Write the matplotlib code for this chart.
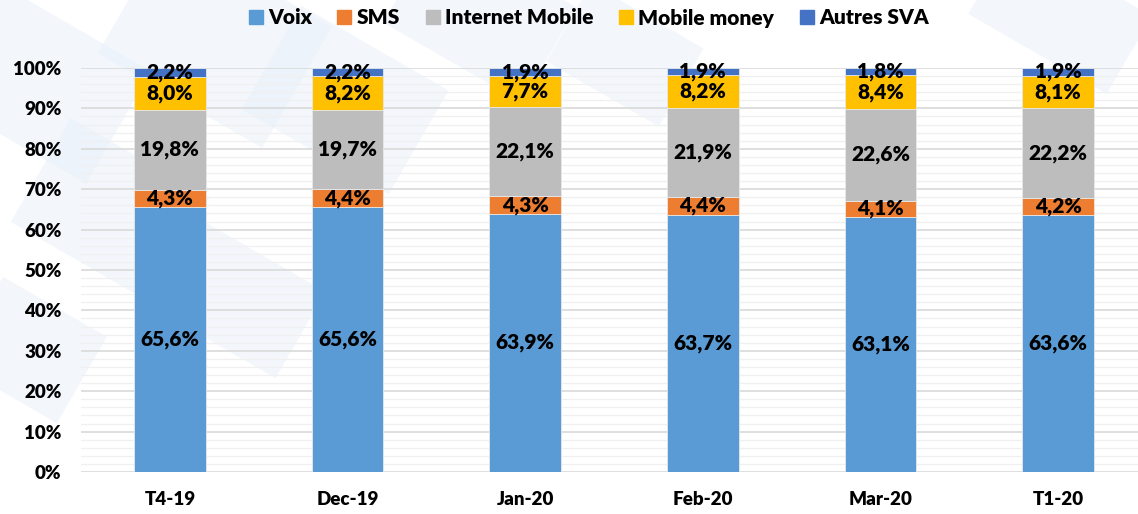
import matplotlib
matplotlib.use("Agg")
import matplotlib.pyplot as plt
from matplotlib.lines import Line2D
from matplotlib.patches import Rectangle
from matplotlib.transforms import Affine2D
import numpy as np

categories = ["T4-19", "Dec-19", "Jan-20", "Feb-20", "Mar-20", "T1-20"]
series_names = ["Voix", "SMS", "Internet Mobile", "Mobile money", "Autres SVA"]
voix = [65.6, 65.6, 63.9, 63.7, 63.1, 63.6]
sms = [4.3, 4.4, 4.3, 4.4, 4.1, 4.2]
internet_mobile = [19.8, 19.7, 22.1, 21.9, 22.6, 22.2]
mobile_money = [8.0, 8.2, 7.7, 8.2, 8.4, 8.1]
autres_sva = [2.2, 2.2, 1.9, 1.9, 1.8, 1.9]
colors = ["#5B9BD5", "#ED7D31", "#BDBDBD", "#FFC000", "#4472C4"]
y_ticks = list(range(0, 101, 10))

series = [voix, sms, internet_mobile, mobile_money, autres_sva]

plt.rcParams["font.family"] = ["Lato", "DejaVu Sans"]
WEIGHT = "heavy"

W, H = 1138, 514
fig = plt.figure(figsize=(W / 100, H / 100), dpi=100)
fig.patch.set_facecolor("white")

# faint tilted tiles in the page background (pixel space, origin top-left)
bg = fig.add_axes([0, 0, 1, 1], zorder=-5)
bg.set_xlim(0, W)
bg.set_ylim(H, 0)
bg.axis("off")
tiles = [(-40, 20, 170, 130), (120, -30, 190, 140), (30, 150, 160, 120),
         (260, 40, 170, 120), (400, -40, 160, 110), (170, 250, 140, 100),
         (560, 10, 130, 90), (980, -30, 160, 90), (-30, 300, 120, 100)]
for tx, ty, tw, th in tiles:
    r = Rectangle((tx, ty), tw, th, facecolor="#e9f1fa", edgecolor="none",
                  alpha=0.5, zorder=0)
    r.set_transform(Affine2D().rotate_deg_around(tx + tw / 2, ty + th / 2, 30)
                    + bg.transData)
    bg.add_patch(r)

ax = fig.add_axes([81 / W, 1 - 472 / H, (1147 - 81) / W, (472 - 68) / H],
                  zorder=1)
ax.set_facecolor("none")

x = np.arange(len(categories))
bottom = np.zeros(len(categories))
for name, vals, col in zip(series_names, series, colors):
    vals = np.array(vals)
    ax.bar(x, vals, width=0.405, bottom=bottom, color=col, label=name,
           edgecolor="#e8e8e8", linewidth=0.6, zorder=3)
    for xi, b, v in zip(x, bottom, vals):
        ax.text(xi, b + v / 2, f"{v:.1f}%".replace(".", ","), ha="center",
                va="center", fontsize=15, fontweight=WEIGHT, color="black",
                zorder=4)
    bottom += vals

ax.set_xlim(-0.5, 5.5)
ax.set_ylim(0, 100)
ax.set_yticks(y_ticks)
ax.set_yticklabels([f"{t}%" for t in y_ticks])
ax.set_yticks(np.arange(0, 101, 2), minor=True)
ax.grid(axis="y", which="major", color="#d9d9d9", linewidth=1.2, zorder=0)
ax.grid(axis="y", which="minor", color="#f0f0f0", linewidth=1.0, zorder=0)
ax.set_xticks(x)
ax.set_xticklabels(categories)
ax.tick_params(axis="both", which="both", length=0, labelsize=13.5)
ax.tick_params(axis="x", pad=14)
ax.tick_params(axis="y", pad=14)
for lab in ax.get_xticklabels() + ax.get_yticklabels():
    lab.set_fontweight(WEIGHT)
for sp in ax.spines.values():
    sp.set_visible(False)

handles = [Line2D([], [], marker="s", linestyle="none", markersize=9.5,
                  markerfacecolor=c, markeredgecolor=c) for c in colors]
fig.legend(handles, series_names, loc="center", ncol=5,
           bbox_to_anchor=(587 / W, 1 - 18 / H), frameon=False,
           prop={"size": 15, "weight": WEIGHT}, handletextpad=0.1,
           columnspacing=1.05, handlelength=1.0)

fig.savefig("out.png", dpi=100)
